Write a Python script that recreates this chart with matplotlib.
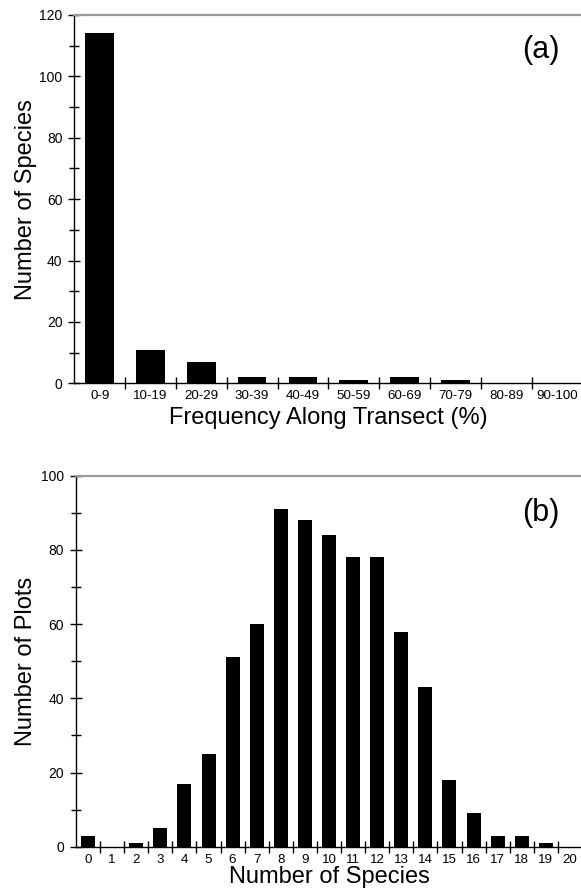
import matplotlib
matplotlib.use("Agg")
import matplotlib.pyplot as plt
from matplotlib.ticker import FixedLocator, MultipleLocator

plt.rcParams["font.family"] = ["Liberation Sans", "DejaVu Sans"]

# panel (a): species frequency along transect
freq_classes = ["0-9", "10-19", "20-29", "30-39", "40-49",
                "50-59", "60-69", "70-79", "80-89", "90-100"]
species_counts = [114, 11, 7, 2, 2, 1, 2, 1, 0, 0]

# panel (b): species richness per plot
richness = list(range(21))
plot_counts = [3, 0, 1, 5, 17, 25, 51, 60, 91, 88, 84,
               78, 78, 58, 43, 18, 9, 3, 3, 1, 0]

W, H = 581, 892
fig = plt.figure(figsize=(W / 100, H / 100), dpi=100)


def style_axes(ax, ymax, n):
    ax.set_xlim(-0.5, n - 0.5)
    ax.set_ylim(0, ymax)
    ax.spines["right"].set_visible(False)
    ax.spines["top"].set_color("#9a9a9a")
    ax.spines["top"].set_linewidth(1.6)
    for s in ("left", "bottom"):
        ax.spines[s].set_linewidth(1.0)
        ax.spines[s].set_color("black")
    ax.yaxis.set_major_locator(MultipleLocator(20))
    ax.yaxis.set_minor_locator(MultipleLocator(10))
    ax.tick_params(axis="y", which="major", direction="inout", length=9,
                   width=1, pad=4, labelsize=10)
    ax.tick_params(axis="y", which="minor", direction="inout", length=7, width=1)
    # category labels sit between boundary ticks
    ax.set_xticks(range(n))
    ax.xaxis.set_minor_locator(FixedLocator([i + 0.5 for i in range(n - 1)]))
    ax.tick_params(axis="x", which="major", length=0, pad=5, labelsize=9.6)
    ax.tick_params(axis="x", which="minor", direction="inout", length=9, width=1)
    ax.tick_params(top=False, right=False, which="both")


# (a)
ax1 = fig.add_axes([74.3 / W, 1 - 383.3 / H, 508 / W, 368.3 / H])
ax1.bar(range(len(freq_classes)), species_counts, width=0.56, color="black")
style_axes(ax1, 120, len(freq_classes))
ax1.set_xticklabels(freq_classes)
ax1.set_xlabel("Frequency Along Transect (%)", fontsize=17, va="baseline")
ax1.xaxis.set_label_coords(0.5, -0.11)
ax1.set_ylabel("Number of Species", fontsize=17, va="baseline")
ax1.yaxis.set_label_coords(-0.083, 0.5)
ax1.text(0.918, 0.905, "(a)", transform=ax1.transAxes, fontsize=22,
         ha="center", va="center")

# (b)
ax2 = fig.add_axes([76 / W, 1 - 846.7 / H, 506 / W, 371 / H])
ax2.bar(richness, plot_counts, width=0.58, color="black")
style_axes(ax2, 100, len(richness))
ax2.set_xticklabels([str(r) for r in richness])
ax2.set_xlabel("Number of Species", fontsize=17, va="baseline")
ax2.xaxis.set_label_coords(0.5, -0.097)
ax2.set_ylabel("Number of Plots", fontsize=17, va="baseline")
ax2.yaxis.set_label_coords(-0.087, 0.5)
ax2.text(0.918, 0.9, "(b)", transform=ax2.transAxes, fontsize=22,
         ha="center", va="center")

fig.savefig("out.png", dpi=100)
